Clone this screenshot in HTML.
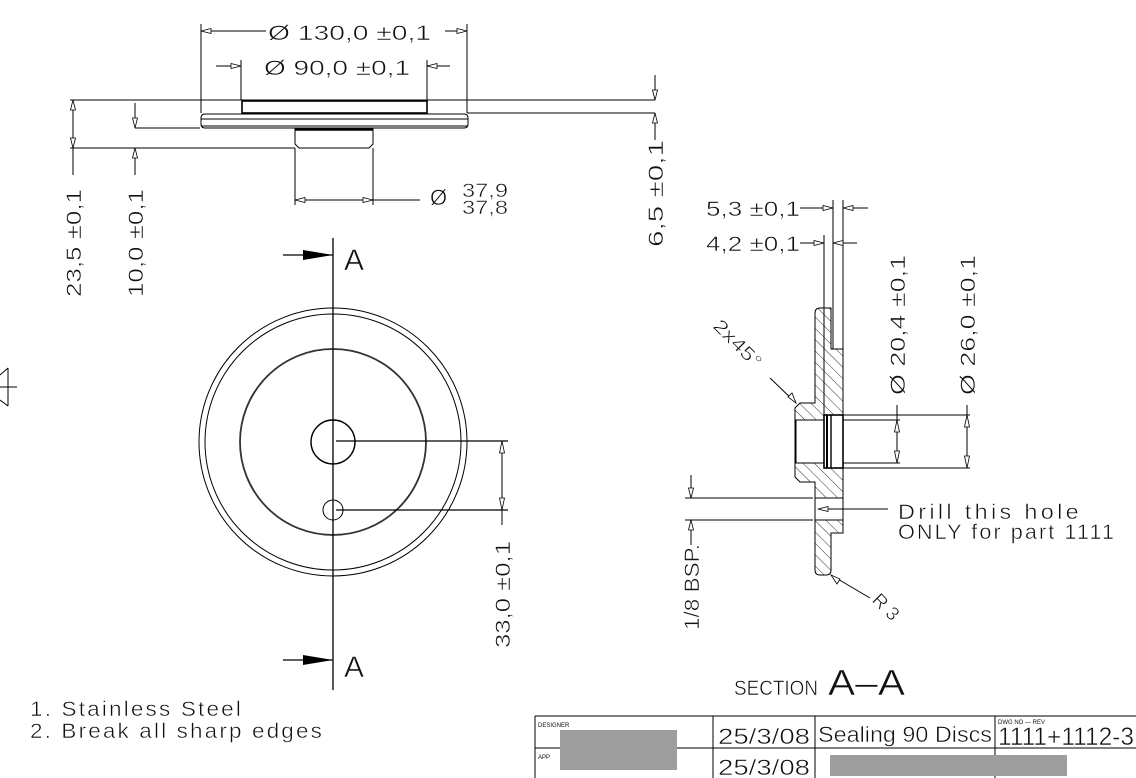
<!DOCTYPE html>
<html><head><meta charset="utf-8"><style>
html,body{margin:0;padding:0;background:#fff;}
svg{display:block;}
text{font-family:"Liberation Sans",sans-serif;fill:#111;stroke:#fff;stroke-width:0.5;paint-order:normal;}
</style></head><body>
<svg width="1136" height="778" viewBox="0 0 1136 778" xmlns="http://www.w3.org/2000/svg">
<defs>
<pattern id="hatch" width="8" height="8" patternUnits="userSpaceOnUse" patternTransform="rotate(-45)">
<line x1="0" y1="0" x2="0" y2="8" stroke="#000" stroke-width="0.8"/>
</pattern>
</defs>
<g stroke="#000" stroke-width="1" fill="none">
<line x1="70" y1="100" x2="655" y2="100"/>
<line x1="467" y1="113" x2="655" y2="113"/>
<line x1="135" y1="128" x2="200" y2="128"/>
<line x1="70" y1="148" x2="295" y2="148"/>
<rect x="242" y="101" width="185" height="12" stroke-width="1.6"/>
<path d="M205 114 H464 Q468 114 468 118 V124 Q468 128 464 128 H205 Q201 128 201 124 V118 Q201 114 205 114 Z"/>
<line x1="201" y1="119" x2="468" y2="119"/>
<line x1="201" y1="126" x2="468" y2="126"/>
<path d="M295 129 H373 V144 L369 148 H299 L295 144 Z"/>
<line x1="295" y1="130" x2="373" y2="130" stroke-width="1.6"/>
<line x1="201" y1="24" x2="201" y2="113"/>
<line x1="467" y1="24" x2="467" y2="113"/>
<line x1="201" y1="31" x2="266" y2="31"/>
<line x1="445" y1="31" x2="467" y2="31"/>
<line x1="241" y1="60" x2="241" y2="100"/>
<line x1="427" y1="60" x2="427" y2="100"/>
<line x1="216" y1="66" x2="241" y2="66"/>
<line x1="427" y1="66" x2="450" y2="66"/>
<line x1="295" y1="148" x2="295" y2="205"/>
<line x1="373" y1="148" x2="373" y2="205"/>
<line x1="295" y1="200" x2="420" y2="200"/>
<line x1="73" y1="100" x2="73" y2="175"/>
<line x1="135" y1="103" x2="135" y2="128"/>
<line x1="135" y1="148" x2="135" y2="175"/>
<line x1="655" y1="75" x2="655" y2="100"/>
<line x1="655" y1="113" x2="655" y2="140"/>
</g>
<g fill="#fff" stroke="#000" stroke-width="0.8">
<path d="M201 31 l10 -2.5 v5 z"/><path d="M467 31 l-10 -2.5 v5 z"/>
<path d="M241 66 l-10 -2.5 v5 z"/><path d="M427 66 l10 -2.5 v5 z"/>
<path d="M295 200 l10 -2.5 v5 z"/><path d="M373 200 l-10 -2.5 v5 z"/>
<path d="M73 100 l-2.5 10 h5 z"/><path d="M73 148 l-2.5 -10 h5 z"/>
<path d="M135 128 l-2.5 -10 h5 z"/><path d="M135 148 l-2.5 10 h5 z"/>
<path d="M655 100 l-2.5 -10 h5 z"/><path d="M655 113 l-2.5 10 h5 z"/>
</g>
<g font-size="21">
<text x="268" y="40" textLength="163" lengthAdjust="spacingAndGlyphs">Ø 130,0 ±0,1</text>
<text x="264" y="75" textLength="146" lengthAdjust="spacingAndGlyphs">Ø 90,0 ±0,1</text>
<text x="430" y="205" font-size="22">Ø</text>
<text x="462" y="197" font-size="19" textLength="46" lengthAdjust="spacingAndGlyphs">37,9</text>
<text x="462" y="214" font-size="19" textLength="46" lengthAdjust="spacingAndGlyphs">37,8</text>
<text transform="translate(81,297) rotate(-90)" textLength="108" lengthAdjust="spacingAndGlyphs">23,5 ±0,1</text>
<text transform="translate(143,297) rotate(-90)" textLength="108" lengthAdjust="spacingAndGlyphs">10,0 ±0,1</text>
<text transform="translate(663,247) rotate(-90)" textLength="107" lengthAdjust="spacingAndGlyphs">6,5 ±0,1</text>
</g>
<g stroke="#000" fill="none">
<circle cx="333" cy="442" r="134" stroke-width="1"/>
<circle cx="333" cy="442" r="128" stroke-width="1"/>
<circle cx="333" cy="442" r="93" stroke-width="1.8" stroke="#333"/>
<circle cx="333" cy="442" r="22" stroke-width="1.4"/>
<circle cx="333" cy="510" r="10" stroke-width="1"/>
<line x1="333" y1="238" x2="333" y2="690" stroke-width="1.3"/>
<line x1="336" y1="441" x2="508" y2="441" stroke-width="1.2"/>
<line x1="336" y1="510" x2="508" y2="510" stroke-width="1.2"/>
<line x1="502" y1="441" x2="502" y2="525" stroke-width="1"/>
<line x1="283" y1="255" x2="333" y2="255" stroke-width="1.3"/>
<line x1="283" y1="660" x2="333" y2="660" stroke-width="1.3"/>
<line x1="8" y1="368" x2="8" y2="406"/>
<line x1="0" y1="387" x2="17" y2="387"/>
<line x1="0" y1="375" x2="8" y2="368"/>
<line x1="0" y1="400" x2="8" y2="406"/>
</g>
<path d="M333 255 l-30 -5 v10 z" fill="#000"/>
<path d="M333 660 l-30 -5 v10 z" fill="#000"/>
<g fill="#fff" stroke="#000" stroke-width="0.8">
<path d="M502 441 l-2.5 12 h5 z"/><path d="M502 510 l-2.5 -12 h5 z"/>
</g>
<g font-size="21">
<text x="344" y="270" font-size="30" textLength="20" lengthAdjust="spacingAndGlyphs">A</text>
<text x="344" y="677" font-size="30" textLength="20" lengthAdjust="spacingAndGlyphs">A</text>
<text transform="translate(510,648) rotate(-90)" textLength="107" lengthAdjust="spacingAndGlyphs">33,0 ±0,1</text>
</g>
<g stroke="#000" stroke-width="1">
<path d="M820 308 H831 V349 H843 V415 H831 V468 H843 V498 H815 V482 H800 L795 477 V408 L800 403 H815 V313 Q815 308 820 308 Z" fill="url(#hatch)"/>
<path d="M815 520 H843 V533 H831 V570 Q831 575 826 575 H820 Q815 575 815 570 Z" fill="url(#hatch)"/>
<rect x="815" y="498" width="28" height="22" fill="#fff"/>
<rect x="796" y="420" width="28" height="43" fill="#fff"/>
<rect x="824" y="415" width="19" height="53" fill="#fff" stroke-width="1.6"/>
<line x1="827" y1="415" x2="827" y2="468" stroke-width="2"/>
<line x1="831" y1="415" x2="831" y2="468" stroke-width="1.4"/>
<g fill="none">
<line x1="824" y1="235" x2="824" y2="415"/>
<line x1="833" y1="200" x2="833" y2="349"/>
<line x1="843" y1="200" x2="843" y2="349"/>
<line x1="800" y1="208" x2="833" y2="208"/>
<line x1="843" y1="208" x2="868" y2="208"/>
<line x1="800" y1="243" x2="824" y2="243"/>
<line x1="833" y1="243" x2="857" y2="243"/>
<line x1="843" y1="415" x2="970" y2="415"/>
<line x1="843" y1="420" x2="900" y2="420"/>
<line x1="843" y1="463" x2="900" y2="463"/>
<line x1="843" y1="468" x2="970" y2="468"/>
<line x1="897" y1="405" x2="897" y2="463"/>
<line x1="967" y1="405" x2="967" y2="468"/>
<line x1="685" y1="498" x2="813" y2="498"/>
<line x1="685" y1="520" x2="813" y2="520"/>
<line x1="691" y1="475" x2="691" y2="498"/>
<line x1="691" y1="520" x2="691" y2="545"/>
<line x1="818" y1="509" x2="888" y2="509"/>
<line x1="770" y1="378" x2="796" y2="403"/>
<line x1="831" y1="575" x2="870" y2="598"/>
</g>
</g>
<g fill="#fff" stroke="#000" stroke-width="0.8">
<path d="M833 208 l-10 -2.5 v5 z"/><path d="M843 208 l10 -2.5 v5 z"/>
<path d="M824 243 l-10 -2.5 v5 z"/><path d="M833 243 l10 -2.5 v5 z"/>
<path d="M897 420 l-2.5 12 h5 z"/><path d="M897 463 l-2.5 -12 h5 z"/>
<path d="M967 415 l-2.5 12 h5 z"/><path d="M967 468 l-2.5 -12 h5 z"/>
<path d="M691 498 l-2.5 -10 h5 z"/><path d="M691 520 l-2.5 10 h5 z"/>
<path d="M818 509 l10 -2.5 v5 z"/>
<path d="M796 403 l-4 -10 l-4 4 z"/>
<path d="M831 575 l6 9 l3 -5 z"/>
</g>
<g font-size="21">
<text x="706" y="216" textLength="94" lengthAdjust="spacingAndGlyphs">5,3 ±0,1</text>
<text x="706" y="251" textLength="94" lengthAdjust="spacingAndGlyphs">4,2 ±0,1</text>
<text transform="translate(905,395) rotate(-90)" textLength="140" lengthAdjust="spacingAndGlyphs">Ø 20,4 ±0,1</text>
<text transform="translate(975,395) rotate(-90)" textLength="140" lengthAdjust="spacingAndGlyphs">Ø 26,0 ±0,1</text>
<text transform="translate(712,327) rotate(45)" font-size="19" textLength="60" lengthAdjust="spacingAndGlyphs">2x45°</text>
<text transform="translate(871,601) rotate(45)" font-size="19">R 3</text>
<text transform="translate(699,630) rotate(-90)" textLength="86" lengthAdjust="spacingAndGlyphs">1/8 BSP.</text>
<text x="898" y="519" textLength="184" lengthAdjust="spacingAndGlyphs" letter-spacing="3">Drill this hole</text>
<text x="898" y="539" textLength="218" lengthAdjust="spacingAndGlyphs" letter-spacing="2">ONLY for part 1111</text>
<text x="734" y="695" textLength="84" lengthAdjust="spacingAndGlyphs">SECTION</text>
<text x="828" y="695" font-size="36" textLength="77" lengthAdjust="spacingAndGlyphs">A–A</text>
<text x="30" y="716" textLength="213" lengthAdjust="spacingAndGlyphs" letter-spacing="2">1. Stainless Steel</text>
<text x="30" y="738" textLength="294" lengthAdjust="spacingAndGlyphs" letter-spacing="2">2. Break all sharp edges</text>
</g>
<g stroke="#000" stroke-width="1" fill="none">
<line x1="535" y1="716" x2="1136" y2="716"/>
<line x1="535" y1="748" x2="1136" y2="748"/>
<line x1="535" y1="716" x2="535" y2="778"/>
<line x1="713" y1="716" x2="713" y2="778"/>
<line x1="815" y1="716" x2="815" y2="778"/>
<line x1="995" y1="716" x2="995" y2="778"/>
</g>
<text x="538" y="727" font-size="6" style="stroke:none">DESIGNER</text>
<text x="538" y="759" font-size="6" style="stroke:none">APP</text>
<text x="998" y="724" font-size="6" style="stroke:none">DWG NO — REV</text>
<g font-size="22">
<text x="718" y="744" textLength="92" lengthAdjust="spacingAndGlyphs">25/3/08</text>
<text x="718" y="775" textLength="92" lengthAdjust="spacingAndGlyphs">25/3/08</text>
<text x="818" y="742" textLength="174" lengthAdjust="spacingAndGlyphs">Sealing 90 Discs</text>
<text x="998" y="745" font-size="25" textLength="136" lengthAdjust="spacingAndGlyphs">1111+1112-3</text>
</g>
<rect x="560" y="730" width="117" height="40" fill="#9e9e9e"/>
<rect x="830" y="755" width="237" height="21" fill="#9e9e9e"/>
</svg>
</body></html>
